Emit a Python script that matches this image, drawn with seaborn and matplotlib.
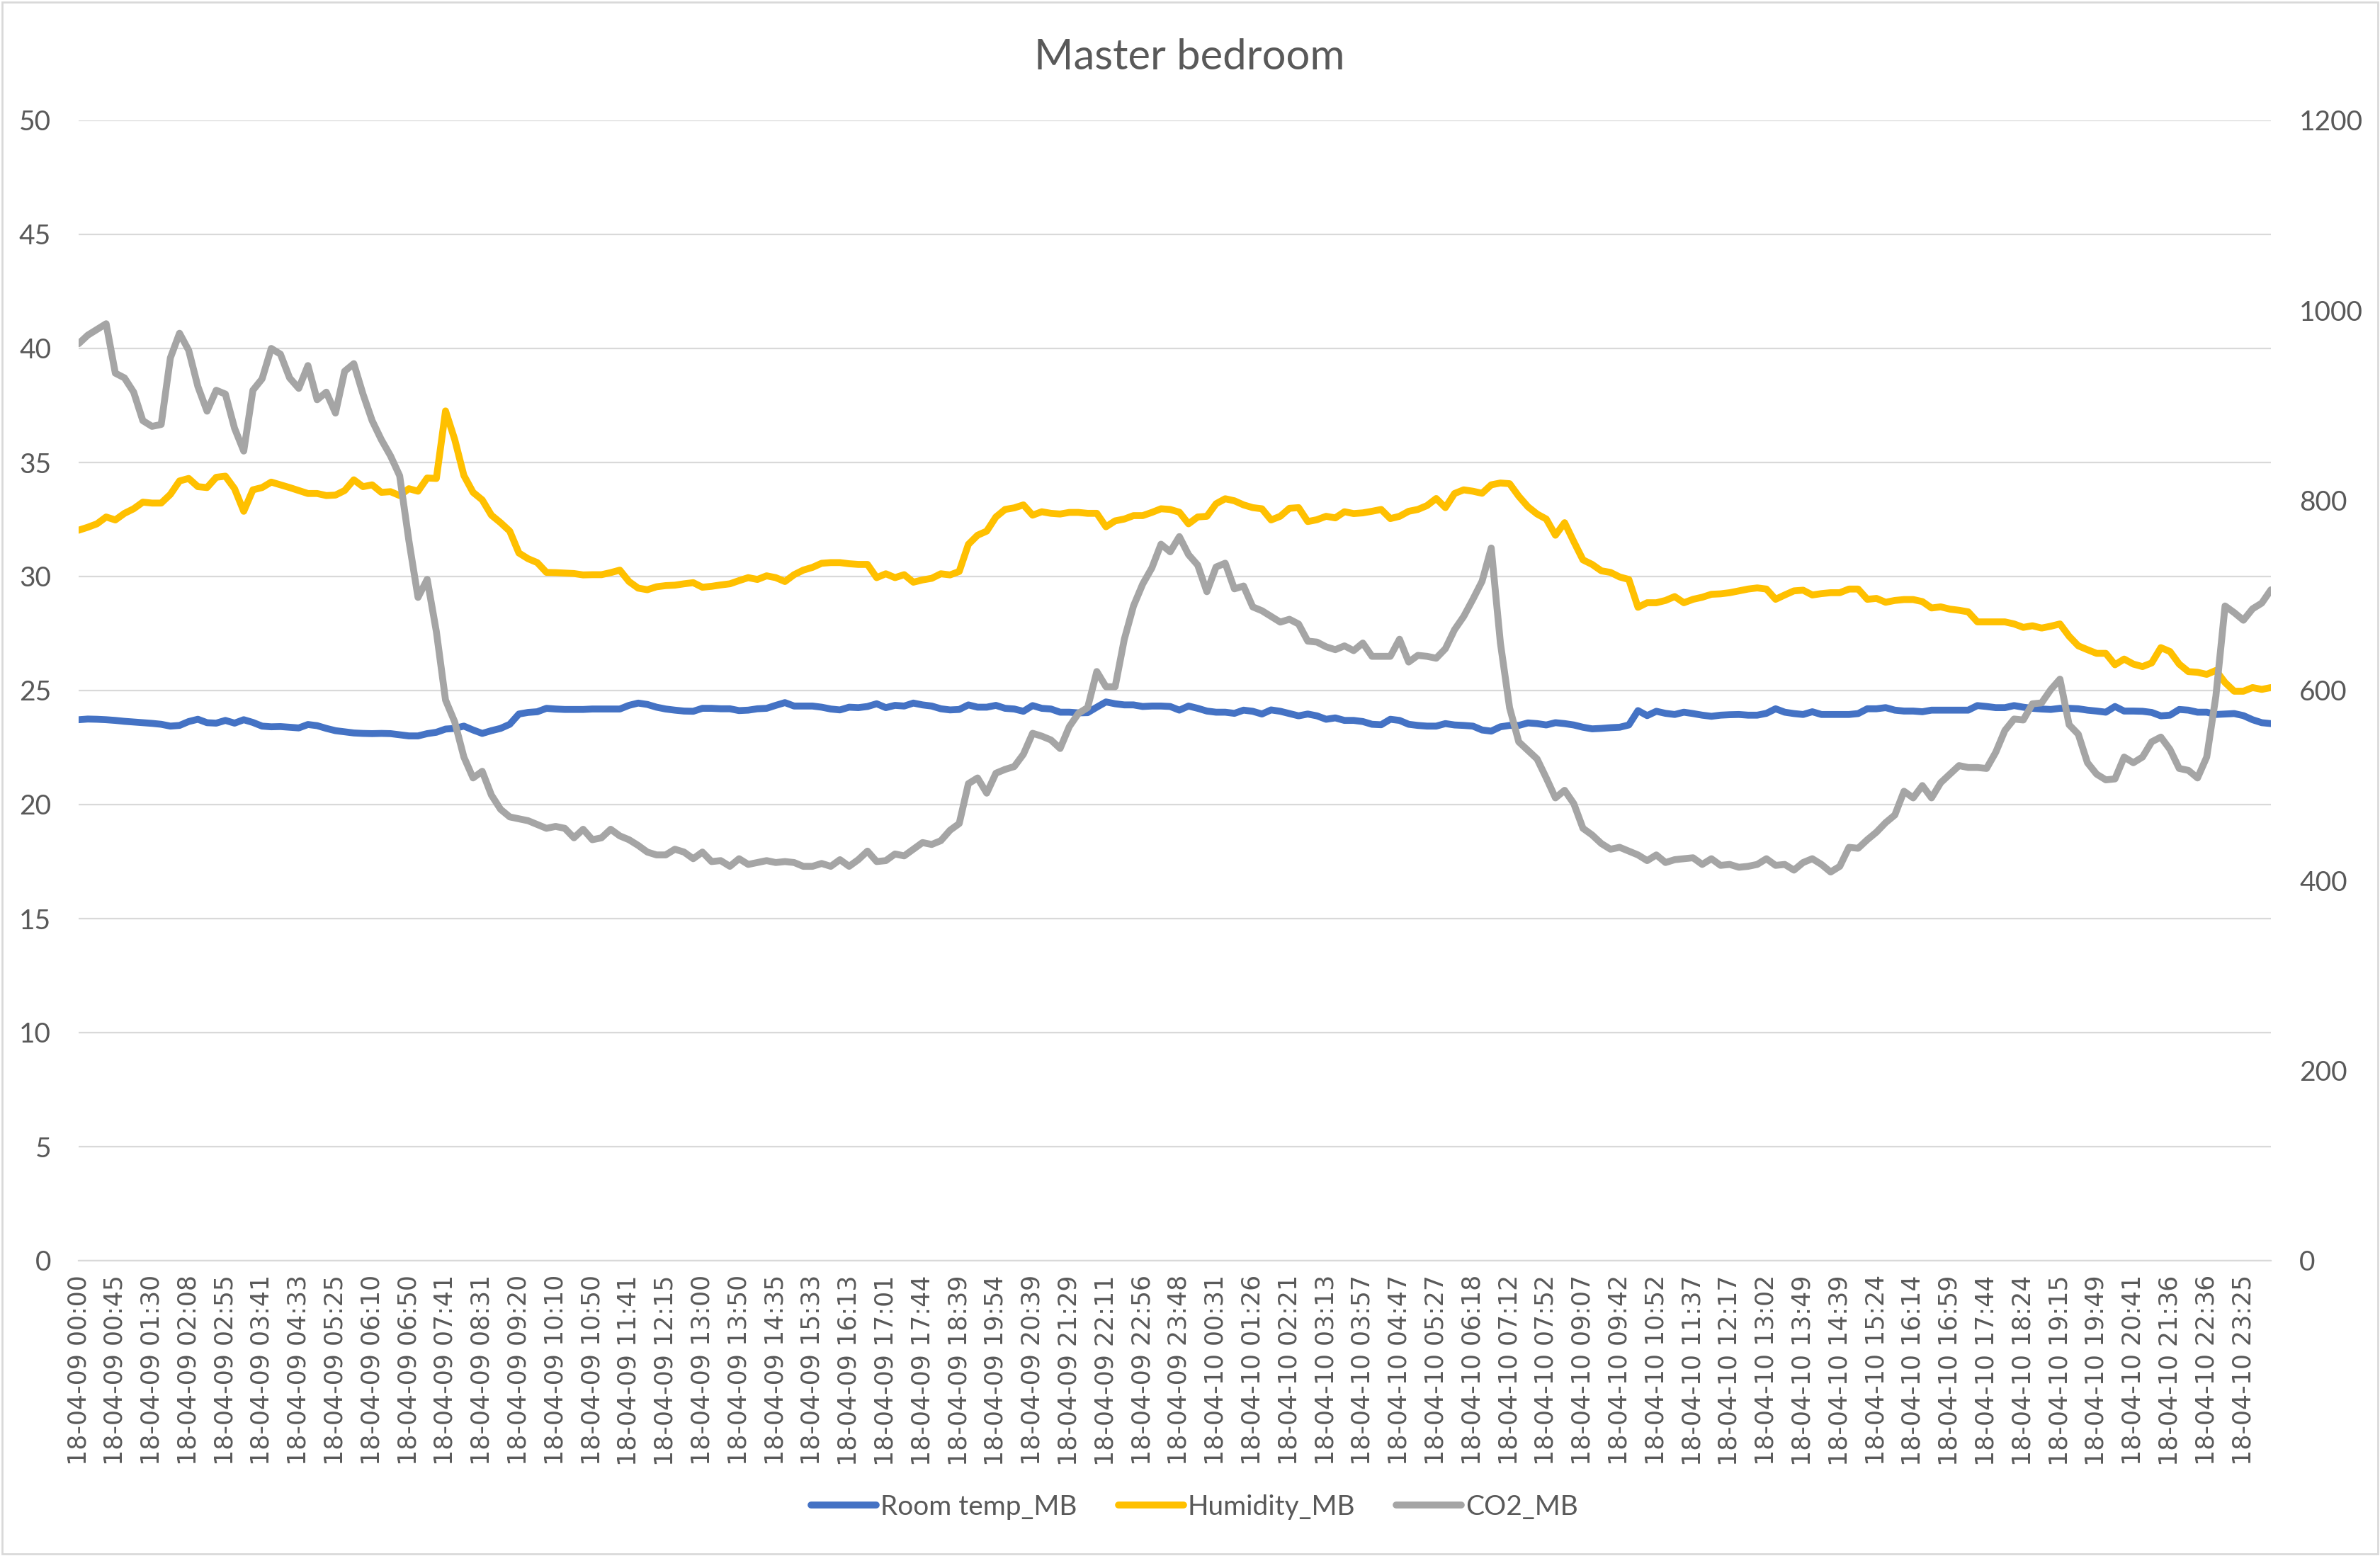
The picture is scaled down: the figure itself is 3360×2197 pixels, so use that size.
import numpy as np
import pandas as pd
import matplotlib
matplotlib.use("Agg")
import matplotlib.pyplot as plt
from matplotlib.patches import Rectangle
import seaborn as sns

# ---------------- data ----------------
day9_times = ["00:00", "00:45", "01:30", "02:08", "02:55", "03:41", "04:33", "05:25", "06:10", "06:50",
              "07:41", "08:31", "09:20", "10:10", "10:50", "11:41", "12:15", "13:00", "13:50", "14:35",
              "15:33", "16:13", "17:01", "17:44", "18:39", "19:54", "20:39", "21:29", "22:11", "22:56",
              "23:48"]
day10_times = ["00:31", "01:26", "02:21", "03:13", "03:57", "04:47", "05:27", "06:18", "07:12", "07:52",
               "09:07", "09:42", "10:52", "11:37", "12:17", "13:02", "13:49", "14:39", "15:24", "16:14",
               "16:59", "17:44", "18:24", "19:15", "19:49", "20:41", "21:36", "22:36", "23:25"]
tick_labels = ["18-04-09 " + t for t in day9_times] + ["18-04-10 " + t for t in day10_times]

room_temp = [
    23.72, 23.75, 23.74, 23.72, 23.69, 23.65, 23.62, 23.59, 23.56, 23.52,
    23.44, 23.47, 23.64, 23.74, 23.59, 23.57, 23.69, 23.57, 23.72, 23.60,
    23.44, 23.41, 23.42, 23.39, 23.36, 23.51, 23.46, 23.34, 23.24, 23.19,
    23.14, 23.12, 23.11, 23.12, 23.11, 23.06, 23.01, 23.01, 23.11, 23.17,
    23.31,
    23.34, 23.44, 23.27, 23.12, 23.24, 23.34, 23.52, 23.97, 24.04, 24.07,
    24.22, 24.19, 24.17, 24.17, 24.17, 24.19, 24.19, 24.19, 24.19, 24.35,
    24.45, 24.39, 24.27, 24.19, 24.14, 24.10, 24.09, 24.22, 24.22, 24.20,
    24.20, 24.12, 24.14, 24.20, 24.22, 24.35, 24.47, 24.32, 24.32,
    24.32, 24.27, 24.19, 24.15, 24.27, 24.25, 24.30, 24.42, 24.25, 24.35,
    24.32, 24.45, 24.37, 24.32, 24.20, 24.15, 24.17, 24.37, 24.27, 24.27,
    24.35, 24.22, 24.19, 24.09, 24.34, 24.22, 24.19, 24.05, 24.05, 24.02,
    24.03, 24.27, 24.50, 24.42, 24.37, 24.37, 24.30, 24.32, 24.32,
    24.30, 24.14, 24.32, 24.22, 24.10, 24.05, 24.05, 24.00, 24.14, 24.09,
    23.97, 24.15, 24.09, 23.99, 23.89, 23.97, 23.89, 23.74, 23.80, 23.69,
    23.69, 23.64, 23.52, 23.50, 23.74, 23.69, 23.52, 23.47, 23.44, 23.44,
    23.55, 23.49, 23.47, 23.44, 23.27, 23.22, 23.41, 23.47, 23.47, 23.58,
    23.55, 23.49, 23.59, 23.55, 23.49, 23.39, 23.32, 23.34, 23.37, 23.39,
    23.49, 24.12, 23.90, 24.09, 24.00, 23.95, 24.05, 23.99, 23.92, 23.87,
    23.92, 23.94, 23.95, 23.92, 23.92, 24.00, 24.20, 24.05, 23.99, 23.95,
    24.07, 23.95, 23.95, 23.95, 23.95, 23.99, 24.20, 24.20, 24.25,
    24.14, 24.10, 24.10, 24.07, 24.14, 24.14, 24.14, 24.14, 24.14, 24.34,
    24.30, 24.25, 24.25, 24.34, 24.27, 24.22, 24.19, 24.17, 24.22, 24.22,
    24.20, 24.14, 24.10, 24.05, 24.30, 24.10, 24.10, 24.09, 24.04, 23.89,
    23.92, 24.17, 24.14, 24.05, 24.05, 23.95, 23.97, 23.99, 23.90, 23.72,
    23.59, 23.55,
]

humidity = [
    32.03, 32.16, 32.31, 32.61, 32.48, 32.77, 32.97, 33.26, 33.22, 33.22,
    33.60, 34.19, 34.30, 33.94, 33.90, 34.35, 34.40, 33.85, 32.86, 33.80,
    33.90, 34.14, 34.02, 33.90, 33.77, 33.64, 33.64, 33.55, 33.57, 33.77,
    34.24, 33.94, 34.02, 33.69, 33.72, 33.55, 33.85, 33.74, 34.32, 34.30,
    37.26,
    36.01, 34.43, 33.69, 33.36, 32.69, 32.36, 31.99, 31.03, 30.78, 30.61,
    30.18, 30.17, 30.15, 30.13, 30.07, 30.08, 30.08, 30.17, 30.28, 29.78,
    29.49, 29.42, 29.55, 29.60, 29.62, 29.68, 29.73, 29.53, 29.57, 29.63,
    29.68, 29.82, 29.95, 29.87, 30.03, 29.95, 29.78, 30.08, 30.28,
    30.40, 30.58, 30.61, 30.61, 30.56, 30.53, 30.53, 29.95, 30.12, 29.95,
    30.08, 29.75, 29.85, 29.92, 30.12, 30.07, 30.22, 31.41, 31.81, 31.99,
    32.61, 32.94, 33.01, 33.14, 32.69, 32.84, 32.77, 32.74, 32.81, 32.81,
    32.77, 32.77, 32.18, 32.44, 32.52, 32.67, 32.67, 32.81, 32.97,
    32.94, 32.82, 32.31, 32.61, 32.64, 33.19, 33.41, 33.32, 33.14, 33.02,
    32.97, 32.48, 32.64, 32.99, 33.02, 32.41, 32.49, 32.64, 32.57, 32.84,
    32.76, 32.79, 32.86, 32.94, 32.54, 32.64, 32.86, 32.94, 33.11, 33.42,
    33.02, 33.64, 33.80, 33.74, 33.65, 34.02, 34.10, 34.07, 33.52, 33.06,
    32.74, 32.52, 31.81, 32.36, 31.53, 30.73, 30.53, 30.25, 30.18, 29.98,
    29.87, 28.65, 28.85, 28.85, 28.95, 29.12, 28.85, 29.00, 29.09, 29.22,
    29.24, 29.29, 29.37, 29.45, 29.50, 29.45, 29.00, 29.19, 29.37, 29.40,
    29.19, 29.25, 29.29, 29.29, 29.45, 29.45, 29.00, 29.04, 28.87,
    28.95, 28.99, 28.99, 28.90, 28.62, 28.67, 28.57, 28.52, 28.45, 28.01,
    28.01, 28.01, 28.01, 27.92, 27.77, 27.84, 27.74, 27.82, 27.92, 27.38,
    26.96, 26.79, 26.63, 26.63, 26.13, 26.38, 26.16, 26.05, 26.21, 26.88,
    26.71, 26.16, 25.83, 25.80, 25.71, 25.88, 25.35, 24.97, 24.97, 25.13,
    25.05, 25.13,
]

co2 = [
    965, 974, 980, 986, 934, 929, 914, 884, 878, 880,
    950, 976, 958, 920, 894, 916, 912, 876, 852, 916,
    928, 960, 954, 929, 918, 942, 906, 914, 892, 936,
    944, 912, 884, 864, 847, 826, 758, 698, 717, 662,
    590,
    567, 530, 508, 515, 490, 475, 467, 465, 463, 459,
    455, 457, 455, 445, 454, 443, 445, 454, 447, 443,
    437, 430, 427, 427, 433, 430, 423, 430, 420, 421,
    415, 423, 417, 419, 421, 419, 420, 419, 415,
    415, 418, 415, 422, 415, 422, 431, 420, 421, 428,
    426, 433, 440, 438, 442, 453, 460, 502, 508, 492,
    513, 517, 520, 533, 555, 552, 548, 539, 562, 576,
    582, 620, 604, 604, 654, 689, 712, 729, 754,
    746, 762, 743, 732, 704, 730, 734, 707, 710, 688,
    684, 678, 672, 675, 670, 652, 651, 646, 643, 647,
    642, 650, 636, 636, 636, 654, 630, 637, 636, 634,
    644, 664, 678, 696, 715, 750, 650, 582, 546, 537,
    528, 508, 487, 495, 481, 455, 448, 439, 433, 435,
    431, 427, 421, 427, 419, 422, 423, 424, 417, 423,
    416, 417, 414, 415, 417, 423, 416, 417, 411, 419,
    423, 417, 409, 415, 435, 434, 443, 451, 461,
    469, 494, 487, 500, 487, 503, 512, 521, 519, 519,
    518, 535, 558, 570, 569, 586, 587, 601, 612, 564,
    554, 524, 512, 506, 507, 530, 524, 530, 546, 551,
    538, 518, 516, 508, 530, 594, 689, 682, 674, 686,
    692, 706,
]

series_names = ["Room temp_MB", "Humidity_MB", "CO2_MB"]
series_colors = ["#4472C4", "#FFC000", "#A5A5A5"]

# ---------------- style ----------------
sns.set_theme(style="white")
plt.rcParams["font.family"] = ["Lato", "DejaVu Sans"]
TXT = "#595959"
GRID = "#D9D9D9"

df = pd.DataFrame({
    "idx": np.arange(len(room_temp)),
    series_names[0]: room_temp,
    series_names[1]: humidity,
    series_names[2]: co2,
})
N = len(df)

W, H = 3360, 2197
fig = plt.figure(figsize=(W / 100, H / 100), dpi=100)
fig.patch.set_facecolor("white")
ax = fig.add_axes([111 / W, 1 - 1780 / H, (3206 - 111) / W, (1780 - 170) / H])
ax2 = ax.twinx()

lw = 7.0
line_kw = dict(linewidth=lw, solid_capstyle="round", solid_joinstyle="round", legend=False)
sns.lineplot(data=df, x="idx", y=series_names[0], ax=ax, color=series_colors[0], **line_kw)
sns.lineplot(data=df, x="idx", y=series_names[1], ax=ax, color=series_colors[1], **line_kw)
sns.lineplot(data=df, x="idx", y=series_names[2], ax=ax2, color=series_colors[2], **line_kw)

# primary axis
ax.set_xlim(0, N - 1)
ax.set_ylim(0, 50)
ax.set_yticks(np.arange(0, 51, 5))
ax.set_xlabel("")
ax.set_ylabel("")
ax.yaxis.grid(True, color=GRID, linewidth=1.6)
ax.xaxis.grid(False)
ax.set_axisbelow(True)
for s in ["left", "top", "right"]:
    ax.spines[s].set_visible(False)
ax.spines["bottom"].set_color(GRID)
ax.spines["bottom"].set_linewidth(1.6)
ax.tick_params(axis="y", length=0, pad=28, labelsize=28, labelcolor=TXT)

ax.set_xticks(df["idx"].values[::4])
ax.set_xticklabels(tick_labels, rotation=90, fontsize=25, color=TXT, family=["DejaVu Sans"])
ax.set_xticks(df["idx"].values, minor=True)
ax.tick_params(axis="x", which="both", direction="out", length=8.5, width=1.0,
               color="#BFBFBF", pad=6)

# secondary axis
ax2.set_ylim(0, 1200)
ax2.set_yticks(np.arange(0, 1201, 200))
ax2.set_ylabel("")
ax2.grid(False)
for s in ["left", "top", "right", "bottom"]:
    ax2.spines[s].set_visible(False)
ax2.tick_params(axis="y", length=0, pad=29, labelsize=28, labelcolor=TXT)

# title
fig.text(0.4997, 0.963, "Master bedroom", ha="center", va="center", fontsize=43, color=TXT)

# legend
handles = [plt.Line2D([], [], color=c, linewidth=lw, solid_capstyle="round") for c in series_colors]
fig.legend(handles, series_names, loc="center", bbox_to_anchor=(0.502, 0.0314), ncol=3,
           frameon=False, fontsize=28, labelcolor=TXT, handlelength=2.36,
           handletextpad=0.15, columnspacing=1.5)

# chart border
fig.patches.append(Rectangle((0.0008, 0.0012), 0.9984, 0.9976, transform=fig.transFigure,
                             fill=False, edgecolor=GRID, linewidth=2))

fig.savefig("out.png", dpi=100, facecolor="white")
